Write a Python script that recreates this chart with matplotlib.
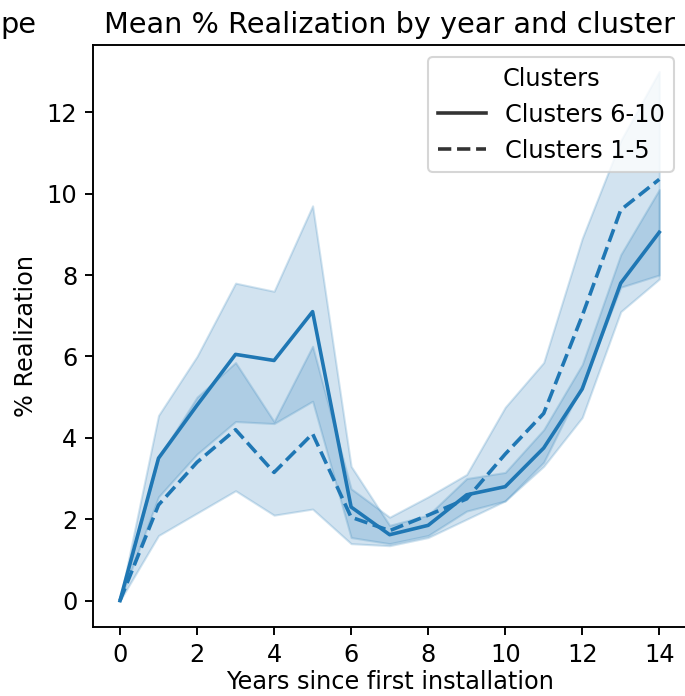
import matplotlib
matplotlib.use("Agg")
import matplotlib.pyplot as plt
from matplotlib.lines import Line2D

# years since first installation
years = list(range(15))

# Clusters 6-10 (solid): mean and confidence band
mean_6_10 = [0, 3.5, 4.8, 6.05, 5.9, 7.1, 2.3, 1.62, 1.85, 2.6, 2.8, 3.75, 5.2, 7.8, 9.05]
low_6_10 = [0, 2.55, 3.6, 4.4, 4.35, 4.9, 1.55, 1.4, 1.6, 2.2, 2.45, 3.3, 4.5, 7.1, 7.9]
high_6_10 = [0, 4.55, 6.0, 7.8, 7.6, 9.7, 3.3, 1.85, 2.1, 3.0, 3.15, 4.2, 5.8, 8.5, 10.1]

# Clusters 1-5 (dashed)
mean_1_5 = [0, 2.35, 3.4, 4.2, 3.15, 4.1, 2.05, 1.72, 2.1, 2.5, 3.6, 4.6, 7.0, 9.6, 10.35]
low_1_5 = [0, 1.6, 2.15, 2.7, 2.1, 2.25, 1.4, 1.35, 1.55, 2.0, 2.45, 3.4, 5.3, 7.7, 8.0]
high_1_5 = [0, 3.5, 5.0, 5.85, 4.4, 6.25, 2.75, 2.05, 2.55, 3.1, 4.75, 5.85, 8.9, 11.3, 13.0]

color = "#1f77b4"
s = 1.15  # the reference is a slightly enlarged render
plt.rcParams.update({
    "font.size": 10 * s,
    "axes.titlesize": 12 * s,
    "axes.linewidth": 0.8 * s,
    "xtick.major.size": 3.5 * s,
    "ytick.major.size": 3.5 * s,
    "xtick.major.width": 0.8 * s,
    "ytick.major.width": 0.8 * s,
})

fig = plt.figure(figsize=(685 / 150, 696 / 150), dpi=150)
ax = fig.add_axes([0.1358, 0.099, 0.866, 0.8363])

ax.fill_between(years, low_6_10, high_6_10, color=color, alpha=0.2)
ax.fill_between(years, low_1_5, high_1_5, color=color, alpha=0.2)
ax.plot(years, mean_6_10, color=color, lw=1.5 * s, ls="-")
ax.plot(years, mean_1_5, color=color, lw=1.5 * s, ls="--")

ax.set_xlim(-0.7, 14.7)
ax.set_ylim(-0.65, 13.65)
ax.set_xticks(range(0, 15, 2))
ax.set_yticks(range(0, 13, 2))
ax.set_xlabel("Years since first installation", labelpad=1.5)
ax.set_ylabel("% Realization")
ax.set_title("Mean % Realization by year and cluster")

handles = [Line2D([], [], color=".2", lw=1.5 * s, ls="-"),
           Line2D([], [], color=".2", lw=1.5 * s, ls="--")]
ax.legend(handles, ["Clusters 6-10", "Clusters 1-5"], title="Clusters", loc="upper right")

# tail of the neighbouring subplot's title
fig.text(0.0, 0.953, "pe", ha="left", va="baseline", fontsize=12 * s)

plt.savefig("out.png", dpi=150)
plt.close()
